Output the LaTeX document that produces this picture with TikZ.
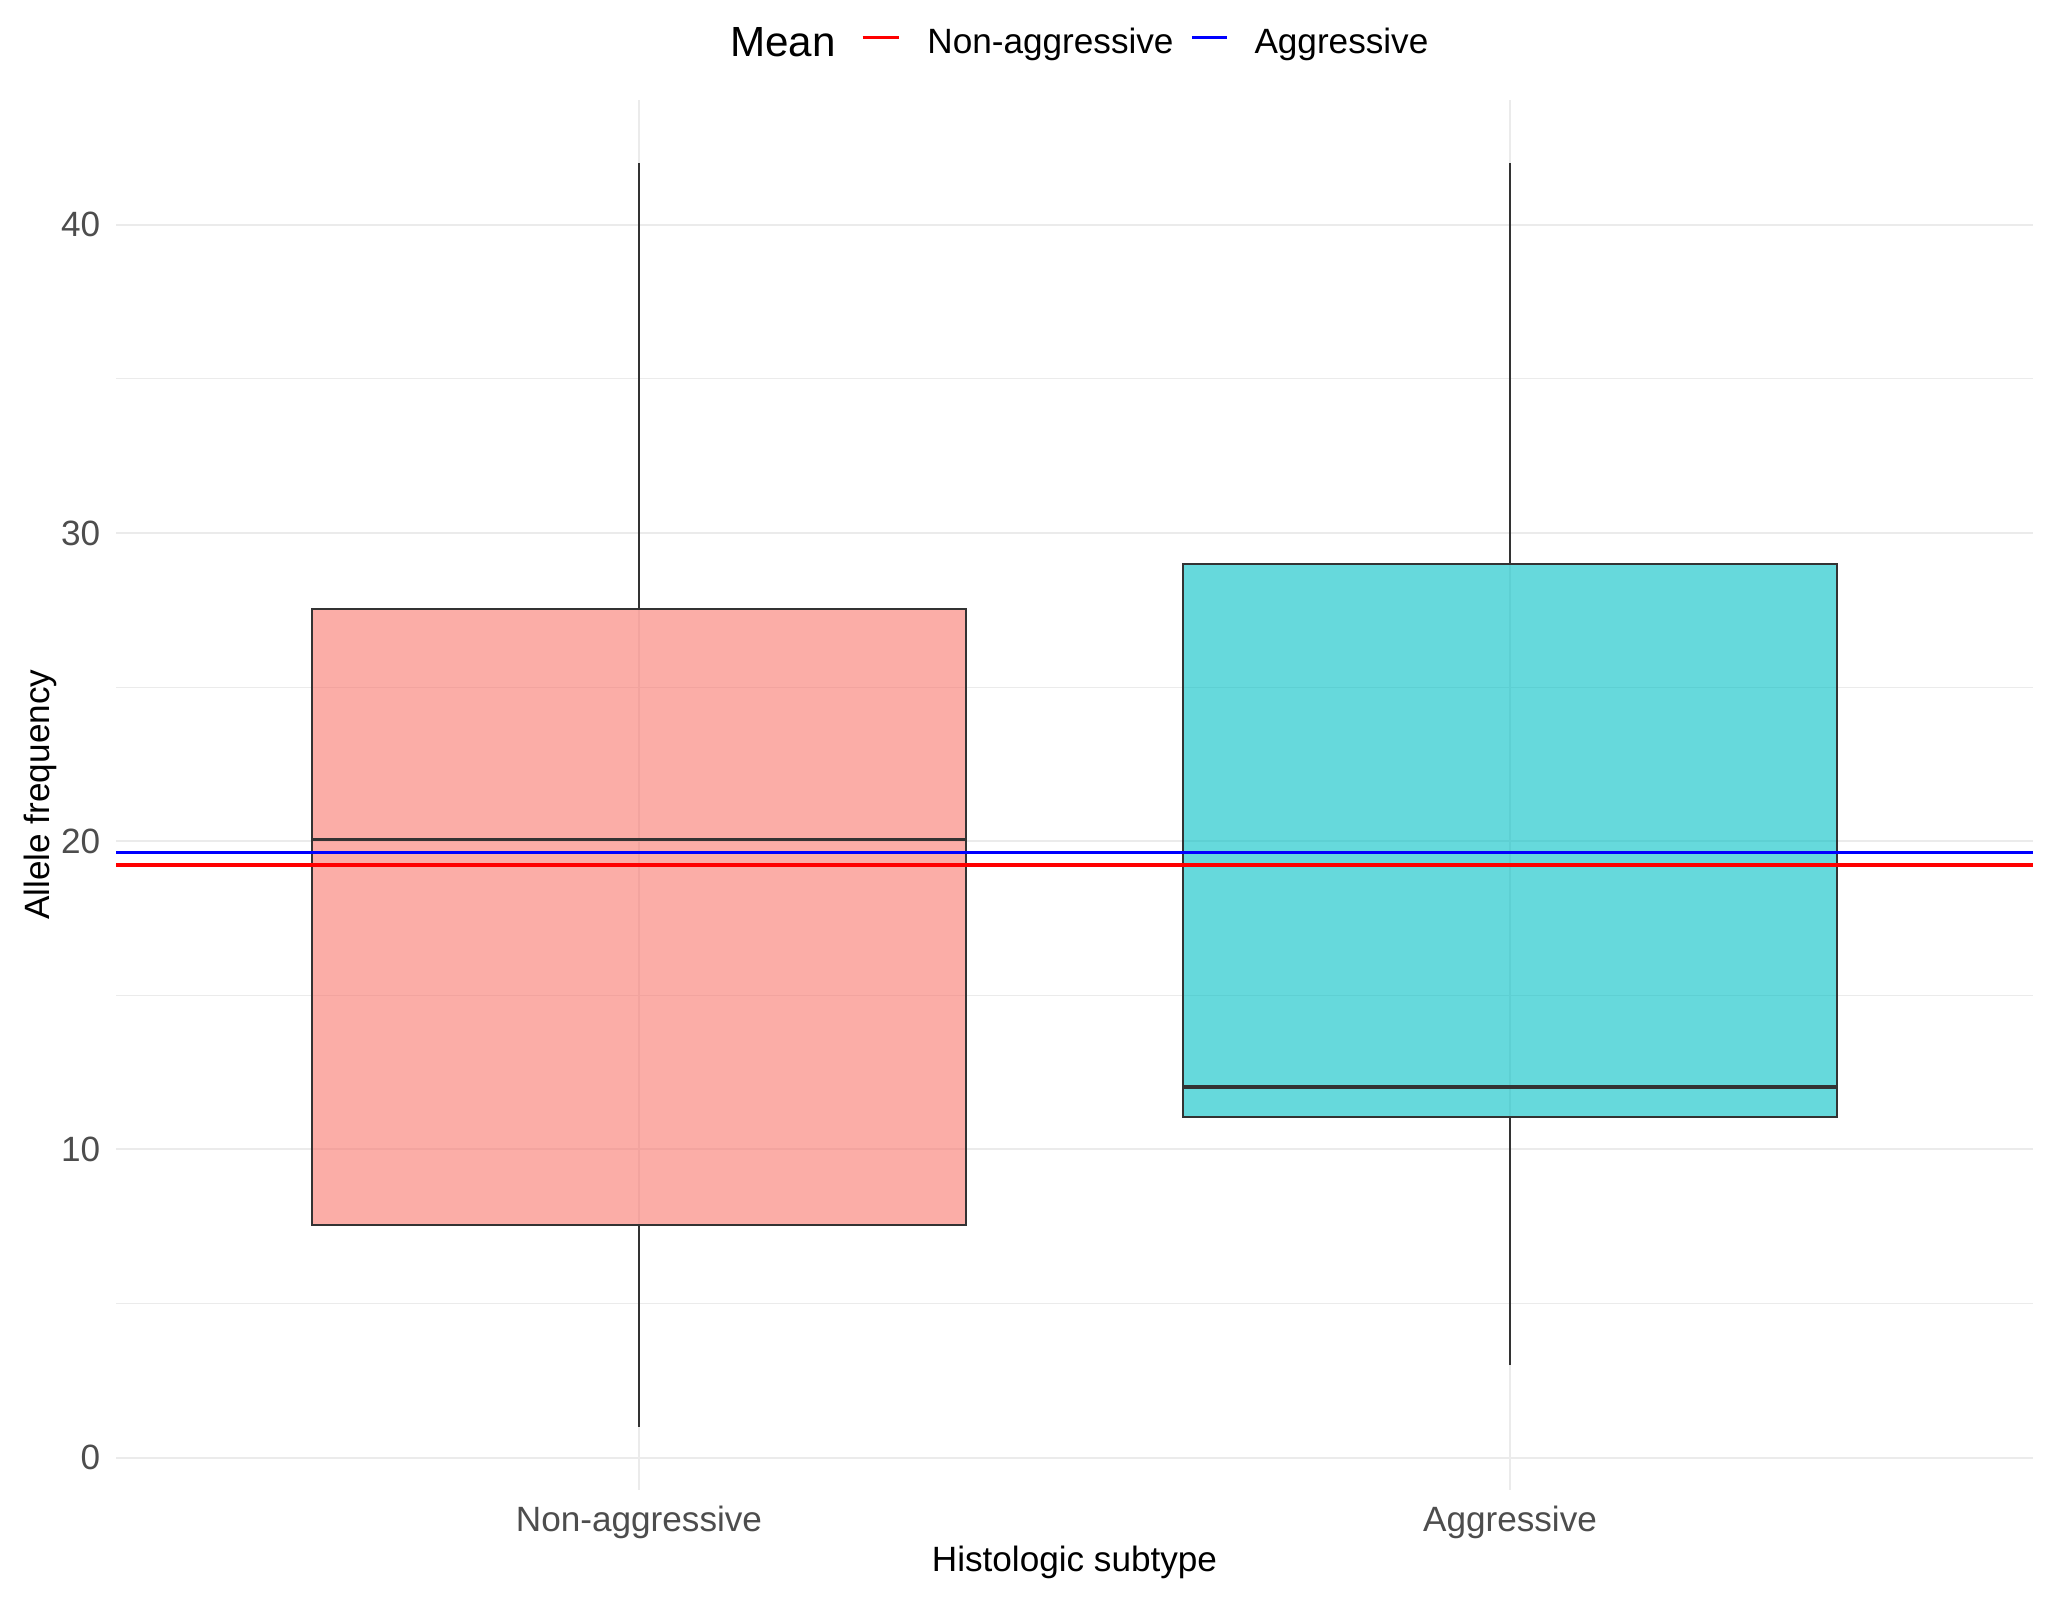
\documentclass[tikz,border=0pt]{standalone}
\usepackage{fontspec}
\setmainfont{Liberation Sans}
\definecolor{gridgrey}{HTML}{EBEBEB}
\definecolor{tickgrey}{HTML}{4D4D4D}
\definecolor{boxline}{HTML}{333333}
\definecolor{nonaggfill}{HTML}{F8766D}
\definecolor{aggfill}{HTML}{00BFC4}
\definecolor{meanred}{HTML}{FF0000}
\definecolor{meanblue}{HTML}{0000FF}
\begin{document}
\begin{tikzpicture}[
    majorgrid/.style={draw=gridgrey, line width=0.55pt},
    minorgrid/.style={draw=gridgrey, line width=0.3pt},
    whisker/.style={draw=boxline, line width=0.55pt},
    boxbody/.style={draw=boxline, line width=0.55pt, fill opacity=0.6},
    median/.style={draw=boxline, line width=1.05pt},
    meanline/.style={line width=1pt},
    ticklabel/.style={text=tickgrey, font=\fontsize{10}{12}\selectfont, inner sep=0pt},
    axistitle/.style={text=black, font=\fontsize{10}{12}\selectfont, inner sep=0pt}]
  \useasboundingbox (0,0) rectangle (20.57,16);
  \begin{scope}[shift={(-2.32,1.423)}, x=8.71cm, y=0.30825cm]
    % grid
    \foreach \v in {5,15,25,35}
      \draw[minorgrid] (0.4,\v) -- (2.6,\v);
    \foreach \v in {0,10,...,40}
      \draw[majorgrid] (0.4,\v) -- (2.6,\v);
    \foreach \c in {1,2}
      \draw[majorgrid] (\c,-1.05) -- (\c,44.05);
    % boxes
    \coordinate (nonmin) at (1,1);
    \coordinate (nonmax) at (1,42);
    \coordinate (nonlo) at (1,7.55);
    \coordinate (nonhi) at (1,27.52);
    \coordinate (aggmin) at (2,3);
    \coordinate (aggmax) at (2,42);
    \coordinate (agglo) at (2,11.05);
    \coordinate (agghi) at (2,29);
    \draw[whisker] (nonmin) -- (nonlo);
    \draw[whisker] (nonhi) -- (nonmax);
    \draw[whisker] (aggmin) -- (agglo);
    \draw[whisker] (agghi) -- (aggmax);
    \draw[boxbody, fill=nonaggfill] (0.625,7.55) rectangle (1.375,27.52);
    \draw[boxbody, fill=aggfill] (1.625,11.05) rectangle (2.375,29);
    \draw[median] (0.625,20.05) -- (1.375,20.05);
    \draw[median] (1.625,12.03) -- (2.375,12.03);
    % means
    \draw[meanline, meanblue] (0.4,19.64) -- (2.6,19.64);
    \draw[meanline, meanred] (0.4,19.23) -- (2.6,19.23);
    % axes
    \foreach \v in {0,10,...,40}
      \node[ticklabel, anchor=east] (y\v) at ([xshift=-0.155cm]0.4,\v) {\v};
    \node[ticklabel, anchor=base] (xnon) at (1,-2.40) {Non-aggressive};
    \node[ticklabel, anchor=base] (xagg) at (2,-2.40) {Aggressive};
  \end{scope}
  \node[axistitle, anchor=base] (xtitle) at (10.745,0.283) {Histologic subtype};
  \node[axistitle, anchor=base, rotate=90] (ytitle) at (0.50,8.053) {Allele frequency};
  % legend
  \node[axistitle, font=\fontsize{12}{14}\selectfont, anchor=base west] (mean) at (7.293,15.433) {Mean};
  \coordinate (redkeyl) at (8.627,15.623);
  \coordinate (redkeyr) at (8.99,15.623);
  \draw[meanline, meanred] (redkeyl) -- (redkeyr);
  \node[axistitle, anchor=base west] (nonkey) at (9.267,15.46) {Non-aggressive};
  \coordinate (bluekeyl) at (11.92,15.623);
  \coordinate (bluekeyr) at (12.27,15.623);
  \draw[meanline, meanblue] (bluekeyl) -- (bluekeyr);
  \node[axistitle, anchor=base west] (aggkey) at (12.538,15.46) {Aggressive};
\end{tikzpicture}
\end{document}
